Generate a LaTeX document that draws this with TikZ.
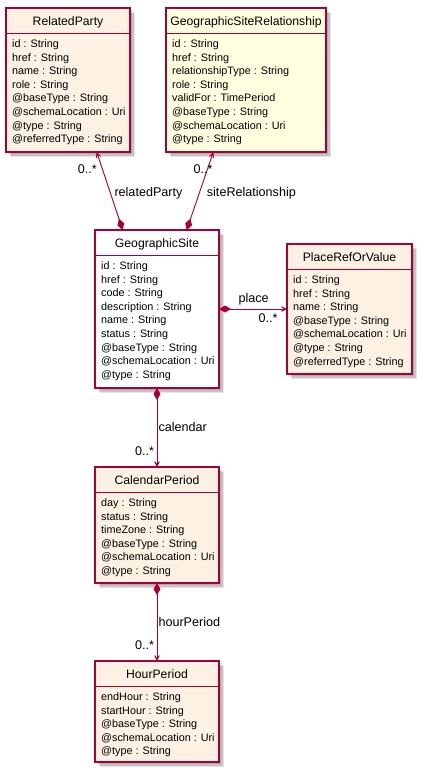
\documentclass[tikz,border=0pt]{standalone}
\usepackage{fontspec}
\setmainfont{Liberation Sans}
\usetikzlibrary{arrows.meta,calc}
\definecolor{umlred}{HTML}{A80036}
\definecolor{peach}{HTML}{FCF1E3}
\definecolor{lyellow}{HTML}{FFFFE0}
\tikzset{
  classbox/.style={draw=umlred, line width=1.1pt, inner sep=0pt, outer sep=0pt, rectangle},
  sepline/.style={draw=umlred, line width=1pt},
  shadowst/.style={fill=black},
  titlest/.style={font=\fontsize{12.2}{14}\selectfont, inner sep=0pt, text=black},
  attrst/.style={font=\fontsize{10.8}{13}\selectfont, inner sep=0pt, text=black},
  lblst/.style={font=\fontsize{12.6}{14}\selectfont, inner sep=0pt, text=black, anchor=base west},
  assoc/.style={draw=umlred, line width=0.9pt,
    {Diamond[length=12pt,width=7pt,fill=umlred]}-{Stealth[length=9pt,width=9pt,inset=6pt,fill=umlred]}},
}
\newcommand\umlclass[8]{%
  \fill[shadowst, opacity=0.10] ({#2+5},{#3+5}) rectangle ({#4+5},{#5+5});
  \fill[shadowst, opacity=0.14] ({#2+3.5},{#3+3.5}) rectangle ({#4+3.5},{#5+3.5});
  \fill[shadowst, opacity=0.12] ({#2+2},{#3+2}) rectangle ({#4+2},{#5+2});
  \node[classbox, fill=#6, anchor=north west, minimum width={(#4-#2)*1pt}, minimum height={(#5-#3)*1pt}] (#1) at (#2,#3) {};
  \node[titlest, anchor=base] (#1-t) at ({(#2+#4)/2},{#3+17}) {#7};
  \draw[sepline] (#2,{#3+25.5}) -- (#4,{#3+25.5});
  \foreach \a [count=\i] in {#8} {
    \node[attrst, anchor=base west] (#1-a\i) at ({#2+6},{#3+39.5+13.6*(\i-1)}) {\a};
  }
}
\begin{document}
\begin{tikzpicture}[x=1pt,y=-1pt]
\useasboundingbox[fill=white] (0,0) rectangle (421,772);

\umlclass{rp}{6}{8}{130}{152}{peach}{RelatedParty}{id : String,href : String,name : String,role : String,@baseType : String,@schemaLocation : Uri,@type : String,@referredType : String}
\umlclass{gsr}{166}{8}{326}{152}{lyellow}{GeographicSiteRelationship}{id : String,href : String,relationshipType : String,role : String,validFor : TimePeriod,@baseType : String,@schemaLocation : Uri,@type : String}
\umlclass{gs}{95}{230}{219}{388}{white}{GeographicSite}{id : String,href : String,code : String,description : String,name : String,status : String,@baseType : String,@schemaLocation : Uri,@type : String}
\umlclass{prov}{287}{244}{412}{374}{peach}{PlaceRefOrValue}{id : String,href : String,name : String,@baseType : String,@schemaLocation : Uri,@type : String,@referredType : String}
\umlclass{cp}{95}{467}{219}{583}{peach}{CalendarPeriod}{day : String,status : String,timeZone : String,@baseType : String,@schemaLocation : Uri,@type : String}
\umlclass{hp}{95}{661}{219}{762}{peach}{HourPeriod}{endHour : String,startHour : String,@baseType : String,@schemaLocation : Uri,@type : String}

% connector end points on the box borders
\coordinate (gsRP) at ($(gs.north west)+(27.7,0)$);
\coordinate (rpEnd) at ($(rp.south west)+(90.7,0)$);
\coordinate (gsGSR) at ($(gs.north west)+(91.7,0)$);
\coordinate (gsrEnd) at ($(gsr.south west)+(47.3,0)$);
\coordinate (gsPl) at ($(gs.north east)+(0,79)$);
\coordinate (provEnd) at ($(prov.north west)+(0,65)$);

\draw[assoc] (gsRP) -- (rpEnd);
\draw[assoc] (gsGSR) -- (gsrEnd);
\draw[assoc] (gsPl) -- (provEnd);
\draw[assoc] (gs.south) -- (cp.north);
\draw[assoc] (cp.south) -- (hp.north);

\node[lblst] (l1) at (114.3,196) {relatedParty};
\node[lblst] (m1) at (77.7,173.3) {0..*};
\node[lblst] (l2) at (206.7,196) {siteRelationship};
\node[lblst] (m2) at (193.3,173.3) {0..*};
\node[lblst] (l3) at (238.3,302) {place};
\node[lblst] (m3) at (258.3,322) {0..*};
\node[lblst] (l4) at (158.3,431.5) {calendar};
\node[lblst] (m4) at (135,455) {0..*};
\node[lblst] (l5) at (158.3,626) {hourPeriod};
\node[lblst] (m5) at (135,649) {0..*};
\end{tikzpicture}
\end{document}
